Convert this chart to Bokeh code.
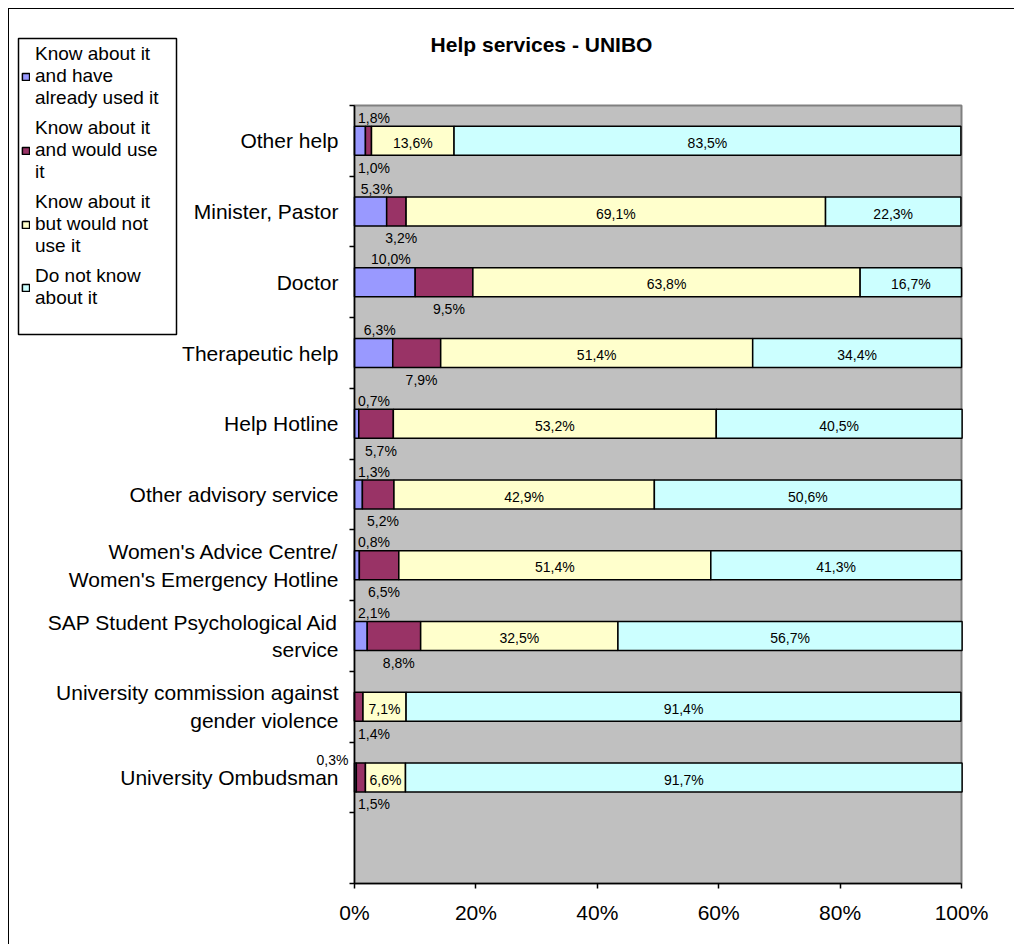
from bokeh.plotting import figure
from bokeh.models import (ColumnDataSource, Range1d, FixedTicker, PrintfTickFormatter,
                          LabelSet, Label, Legend, LegendItem, BoxAnnotation)
from bokeh.core.properties import value
from bokeh.embed import file_html
from bokeh.resources import INLINE

FONT = "Liberation Sans"

categories = [
    "Other help",
    "Minister, Pastor",
    "Doctor",
    "Therapeutic help",
    "Help Hotline",
    "Other advisory service",
    "Women's Advice Centre/\nWomen's Emergency Hotline",
    "SAP Student Psychological Aid\nservice",
    "University commission against\ngender violence",
    "University Ombudsman",
]
used = [1.8, 5.3, 10.0, 6.3, 0.7, 1.3, 0.8, 2.1, 0.0, 0.3]
would_use = [1.0, 3.2, 9.5, 7.9, 5.7, 5.2, 6.5, 8.8, 1.4, 1.5]
would_not = [13.6, 69.1, 63.8, 51.4, 53.2, 42.9, 51.4, 32.5, 7.1, 6.6]
dont_know = [83.5, 22.3, 16.7, 34.4, 40.5, 50.6, 41.3, 56.7, 91.4, 91.7]

series_names = [
    "Know about it\nand have\nalready used it",
    "Know about it\nand would use\nit",
    "Know about it\nbut would not\nuse it",
    "Do not know\nabout it",
]
colors = ["#9999FF", "#993366", "#FFFFCC", "#CCFFFF"]
x_ticks = [0, 20, 40, 60, 80, 100]
title_text = "Help services - UNIBO"

n = len(categories)
ypos = [n - i for i in range(n)]  # top category highest, one empty slot at the bottom
y_lo, y_hi = -0.5, n + 0.5


def pct(v):
    return f"{v:.1f}%".replace(".", ",")


# ---- layout (pixels inside the canvas) ----
W, H = 1006, 936
X0_PX, X1_PX = 345, 952      # 0% and 100%
YT_PX, YB_PX = 96, 874       # top and bottom of the plot area
ppx = (X1_PX - X0_PX) / (x_ticks[-1] - x_ticks[0])
ppy = (YB_PX - YT_PX) / (y_hi - y_lo)
x_range = Range1d(x_ticks[0] - X0_PX / ppx, x_ticks[-1] + (W - X1_PX) / ppx)
y_range = Range1d(y_lo - (H - YB_PX) / ppy, y_hi + YT_PX / ppy)


def px_x(px):
    return x_range.start + px / ppx


def px_y(py):
    return y_range.end - py / ppy


p = figure(width=W, height=H, output_backend="svg", toolbar_location=None,
           x_range=x_range, y_range=y_range,
           min_border_left=0, min_border_right=0, min_border_top=0, min_border_bottom=0)
p.styles = {"margin-left": "8px", "margin-top": "8px",
            "border-left": "1px solid black", "border-top": "1px solid black"}
p.background_fill_color = "white"
p.border_fill_color = "white"
p.outline_line_color = None
p.xgrid.visible = False
p.ygrid.visible = False

# plot area
p.add_layout(BoxAnnotation(left=x_ticks[0], right=x_ticks[-1], bottom=y_lo, top=y_hi,
                           fill_color="#C0C0C0", fill_alpha=1, line_color="#808080",
                           line_alpha=1, line_width=2, level="underlay"))

src = ColumnDataSource(dict(y=ypos, used=used, would_use=would_use,
                            would_not=would_not, dont_know=dont_know))
rs = p.hbar_stack(["used", "would_use", "would_not", "dont_know"], y="y", height=0.41,
                  color=colors, line_color="black", line_width=1.5, source=src)

# axes, fixed at the plot area's edges
p.xaxis.fixed_location = y_lo
p.xaxis.bounds = (x_ticks[0], x_ticks[-1])
p.xaxis.ticker = FixedTicker(ticks=x_ticks)
p.xaxis.formatter = PrintfTickFormatter(format="%d%%")
p.xaxis.major_tick_out = 5
p.xaxis.major_tick_in = 0
p.xaxis.minor_tick_out = 0
p.xaxis.minor_tick_in = 0
p.xaxis.major_label_standoff = 12

p.yaxis.fixed_location = x_ticks[0]
p.yaxis.bounds = (y_lo, y_hi)
p.yaxis.ticker = FixedTicker(ticks=ypos, minor_ticks=[k + 0.5 for k in range(-1, n + 1)])
p.yaxis.major_label_overrides = {y: c for y, c in zip(ypos, categories)}
p.yaxis.major_tick_out = 0
p.yaxis.major_tick_in = 0
p.yaxis.minor_tick_out = 5
p.yaxis.minor_tick_in = 0
p.yaxis.major_label_standoff = 11

for ax in (p.xaxis, p.yaxis):
    ax.axis_line_color = "black"
    ax.axis_line_width = 1.5
    ax.major_tick_line_color = "black"
    ax.major_tick_line_width = 1.5
    ax.minor_tick_line_color = "black"
    ax.minor_tick_line_width = 1.5
    ax.major_label_text_font = FONT
    ax.major_label_text_font_size = "21px"
    ax.major_label_text_color = "black"

# data labels
lab = dict(bx=[], by=[], bt=[], sx=[], sy=[], st=[], mx=[], my=[], mt=[],
           ix=[], iy=[], it=[])
for y, a, b, c, d in zip(ypos, used, would_use, would_not, dont_know):
    if a > 0:
        if a < 0.5:
            lab["sx"].append(0); lab["sy"].append(y + 0.24); lab["st"].append(pct(a))
        else:
            lab["bx"].append(max(a / 2 + 1, 3.2)); lab["by"].append(y + 0.325); lab["bt"].append(pct(a))
    lab["mx"].append(max(a + b / 2 + 0.8, 3.2)); lab["my"].append(y - 0.38); lab["mt"].append(pct(b))
    lab["ix"].append(a + b + c / 2); lab["iy"].append(y - 0.03); lab["it"].append(pct(c))
    lab["ix"].append(a + b + c + d / 2); lab["iy"].append(y - 0.03); lab["it"].append(pct(d))

common = dict(text_font=value(FONT), text_font_size=value("14px"), text_color="black",
              text_baseline="middle")
for kx, ky, kt in (("bx", "by", "bt"), ("mx", "my", "mt"), ("ix", "iy", "it")):
    s = ColumnDataSource(dict(x=lab[kx], y=lab[ky], t=lab[kt]))
    p.add_layout(LabelSet(x="x", y="y", text="t", source=s, text_align="center", **common))
s = ColumnDataSource(dict(x=lab["sx"], y=lab["sy"], t=lab["st"]))
p.add_layout(LabelSet(x="x", y="y", text="t", source=s, text_align="right", x_offset=-6, **common))

# title
p.add_layout(Label(x=532, y=H - 35, x_units="screen", y_units="screen", text=title_text,
                   text_font=FONT, text_font_style="bold", text_font_size="21px",
                   text_align="center", text_baseline="middle", text_color="black"))

# legend box (drawn separately so that it can be taller than the items)
p.add_layout(BoxAnnotation(left=px_x(9), right=px_x(167), top=px_y(29), bottom=px_y(325),
                           fill_color="white", fill_alpha=1, line_color="black",
                           line_alpha=1, line_width=1.5, level="annotation"))

legend = Legend(items=[LegendItem(label=t, renderers=[r]) for t, r in zip(series_names, rs)],
                location=(12, 636), orientation="vertical")
legend.border_line_color = None
legend.background_fill_alpha = 0
legend.padding = 5
legend.margin = 0
legend.spacing = 8
legend.glyph_width = 9
legend.glyph_height = 9
legend.label_standoff = 5
legend.label_width = 126
legend.label_text_font = FONT
legend.label_text_font_size = "19px"
legend.label_text_color = "black"
p.add_layout(legend)

open("out.html", "w").write(file_html(p, INLINE))
